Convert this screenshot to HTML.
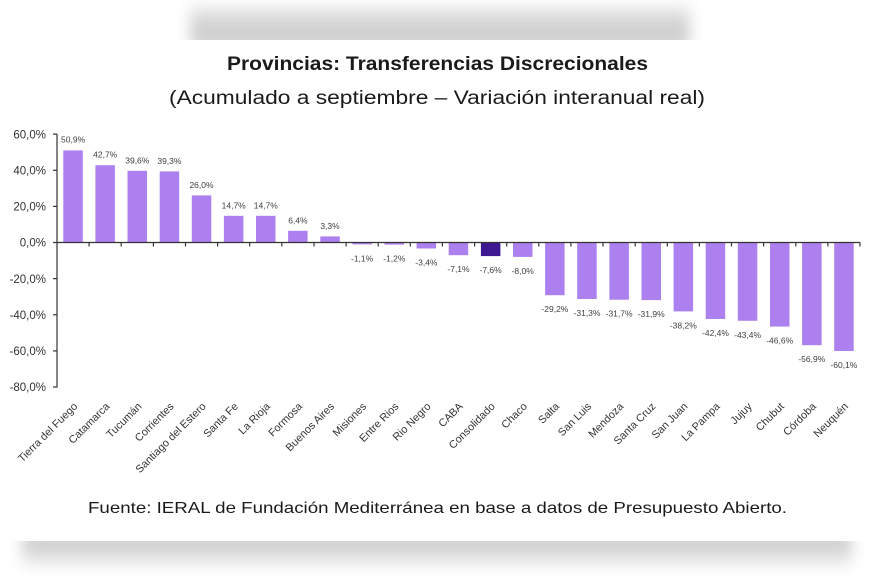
<!DOCTYPE html>
<html>
<head>
<meta charset="utf-8">
<style>
  html,body{margin:0;padding:0;background:#fff;}
  body{width:870px;height:580px;overflow:hidden;position:relative;font-family:"Liberation Sans",sans-serif;}
  .clipTop{position:absolute;left:0;top:0;width:870px;height:40px;overflow:hidden;}
  .bandTop{position:absolute;left:190px;top:6px;width:500px;height:40px;
    background:linear-gradient(to bottom,#ececec 0%,#d6d6d6 40%,#c9c9c9 100%);filter:blur(7px);}
  .clipBot{position:absolute;left:0;top:541px;width:870px;height:39px;overflow:hidden;}
  .bandBot{position:absolute;left:22px;top:-8px;width:830px;height:38px;
    background:linear-gradient(to bottom,#c8c8c8 0%,#d4d4d4 40%,#efefef 80%,#fff 100%);filter:blur(7px);}
  svg{position:absolute;left:0;top:0;}
</style>
</head>
<body>
<div class="clipTop"><div class="bandTop"></div></div>
<div class="clipBot"><div class="bandBot"></div></div>
<svg width="870" height="580" viewBox="0 0 870 580" xmlns="http://www.w3.org/2000/svg">
  <text x="437.5" y="70" text-anchor="middle" font-family="Liberation Sans, sans-serif" font-weight="bold" font-size="19" fill="#1a1a1a" textLength="421" lengthAdjust="spacingAndGlyphs">Provincias: Transferencias Discrecionales</text>
  <text x="437" y="104" text-anchor="middle" font-family="Liberation Sans, sans-serif" font-size="19" fill="#1a1a1a" textLength="536" lengthAdjust="spacingAndGlyphs">(Acumulado a septiembre – Variación interanual real)</text>

  <!-- y axis labels -->
  <g font-family="Liberation Sans, sans-serif" font-size="11.5" fill="#333" text-anchor="end">
    <text x="46" y="138.3">60,0%</text>
    <text x="46" y="174.5">40,0%</text>
    <text x="46" y="210.6">20,0%</text>
    <text x="46" y="246.7">0,0%</text>
    <text x="46" y="282.8">-20,0%</text>
    <text x="46" y="319">-40,0%</text>
    <text x="46" y="355.1">-60,0%</text>
    <text x="46" y="391.2">-80,0%</text>
  </g>
  <!-- y axis -->
  <g stroke="#333" stroke-width="1.2">
    <line x1="57" y1="134" x2="57" y2="387.5"/>
    <line x1="53" y1="134.1" x2="57" y2="134.1"/>
    <line x1="53" y1="170.3" x2="57" y2="170.3"/>
    <line x1="53" y1="206.4" x2="57" y2="206.4"/>
    <line x1="53" y1="242.5" x2="57" y2="242.5"/>
    <line x1="53" y1="278.6" x2="57" y2="278.6"/>
    <line x1="53" y1="314.8" x2="57" y2="314.8"/>
    <line x1="53" y1="350.9" x2="57" y2="350.9"/>
    <line x1="53" y1="387" x2="57" y2="387"/>
  </g>

  <!-- bars -->
  <g fill="#ad80ef">
    <rect x="63.3" y="150.4" width="19.5" height="92"/>
    <rect x="95.4" y="165.2" width="19.5" height="77.2"/>
    <rect x="127.5" y="170.8" width="19.5" height="71.6"/>
    <rect x="159.7" y="171.4" width="19.5" height="71"/>
    <rect x="191.8" y="195.4" width="19.5" height="47"/>
    <rect x="223.9" y="215.8" width="19.5" height="26.6"/>
    <rect x="256" y="215.8" width="19.5" height="26.6"/>
    <rect x="288.1" y="230.8" width="19.5" height="11.6"/>
    <rect x="320.3" y="236.4" width="19.5" height="6"/>
    <rect x="352.4" y="242.4" width="19.5" height="2"/>
    <rect x="384.5" y="242.4" width="19.5" height="2.2"/>
    <rect x="416.6" y="242.4" width="19.5" height="6.1"/>
    <rect x="448.7" y="242.4" width="19.5" height="12.8"/>
    <rect x="513" y="242.4" width="19.5" height="14.5"/>
    <rect x="545.1" y="242.4" width="19.5" height="52.8"/>
    <rect x="577.2" y="242.4" width="19.5" height="56.6"/>
    <rect x="609.4" y="242.4" width="19.5" height="57.3"/>
    <rect x="641.5" y="242.4" width="19.5" height="57.7"/>
    <rect x="673.6" y="242.4" width="19.5" height="69"/>
    <rect x="705.7" y="242.4" width="19.5" height="76.6"/>
    <rect x="737.8" y="242.4" width="19.5" height="78.4"/>
    <rect x="770" y="242.4" width="19.5" height="84.2"/>
    <rect x="802.1" y="242.4" width="19.5" height="102.8"/>
    <rect x="834.2" y="242.4" width="19.5" height="108.6"/>
  </g>
  <rect x="480.9" y="242.4" width="19.5" height="13.7" fill="#3d1890"/>

  <!-- x axis -->
  <g stroke="#333" stroke-width="1.2">
    <line x1="57" y1="242.5" x2="860" y2="242.5"/>
    <line x1="89.1" y1="242.5" x2="89.1" y2="246.5"/>
    <line x1="121.2" y1="242.5" x2="121.2" y2="246.5"/>
    <line x1="153.4" y1="242.5" x2="153.4" y2="246.5"/>
    <line x1="185.5" y1="242.5" x2="185.5" y2="246.5"/>
    <line x1="217.6" y1="242.5" x2="217.6" y2="246.5"/>
    <line x1="249.7" y1="242.5" x2="249.7" y2="246.5"/>
    <line x1="281.8" y1="242.5" x2="281.8" y2="246.5"/>
    <line x1="314" y1="242.5" x2="314" y2="246.5"/>
    <line x1="346.1" y1="242.5" x2="346.1" y2="246.5"/>
    <line x1="378.2" y1="242.5" x2="378.2" y2="246.5"/>
    <line x1="410.3" y1="242.5" x2="410.3" y2="246.5"/>
    <line x1="442.4" y1="242.5" x2="442.4" y2="246.5"/>
    <line x1="474.6" y1="242.5" x2="474.6" y2="246.5"/>
    <line x1="506.7" y1="242.5" x2="506.7" y2="246.5"/>
    <line x1="538.8" y1="242.5" x2="538.8" y2="246.5"/>
    <line x1="570.9" y1="242.5" x2="570.9" y2="246.5"/>
    <line x1="603" y1="242.5" x2="603" y2="246.5"/>
    <line x1="635.2" y1="242.5" x2="635.2" y2="246.5"/>
    <line x1="667.3" y1="242.5" x2="667.3" y2="246.5"/>
    <line x1="699.4" y1="242.5" x2="699.4" y2="246.5"/>
    <line x1="731.5" y1="242.5" x2="731.5" y2="246.5"/>
    <line x1="763.6" y1="242.5" x2="763.6" y2="246.5"/>
    <line x1="795.8" y1="242.5" x2="795.8" y2="246.5"/>
    <line x1="827.9" y1="242.5" x2="827.9" y2="246.5"/>
    <line x1="860" y1="242.5" x2="860" y2="246.5"/>
  </g>

  <!-- data labels -->
  <g font-family="Liberation Sans, sans-serif" font-size="8.5" fill="#404040" text-anchor="middle">
    <text x="73.1" y="142.4">50,9%</text>
    <text x="105.2" y="157.7">42,7%</text>
    <text x="137.3" y="163.3">39,6%</text>
    <text x="169.4" y="163.9">39,3%</text>
    <text x="201.5" y="187.9">26,0%</text>
    <text x="233.7" y="208.3">14,7%</text>
    <text x="265.8" y="208.3">14,7%</text>
    <text x="297.9" y="223.3">6,4%</text>
    <text x="330" y="228.9">3,3%</text>
    <text x="362.1" y="261.4">-1,1%</text>
    <text x="394.3" y="261.6">-1,2%</text>
    <text x="426.4" y="265.5">-3,4%</text>
    <text x="458.5" y="272.2">-7,1%</text>
    <text x="490.6" y="273.1">-7,6%</text>
    <text x="522.7" y="273.9">-8,0%</text>
    <text x="554.9" y="312.2">-29,2%</text>
    <text x="587" y="316">-31,3%</text>
    <text x="619.1" y="316.7">-31,7%</text>
    <text x="651.2" y="317">-31,9%</text>
    <text x="683.3" y="328.4">-38,2%</text>
    <text x="715.5" y="336">-42,4%</text>
    <text x="747.6" y="337.8">-43,4%</text>
    <text x="779.7" y="343.6">-46,6%</text>
    <text x="811.8" y="362.2">-56,9%</text>
    <text x="843.9" y="368">-60,1%</text>
  </g>

  <!-- category labels -->
  <g font-family="Liberation Sans, sans-serif" font-size="10.8" fill="#333" text-anchor="end">
    <text transform="translate(78.1,407) rotate(-45)">Tierra del Fuego</text>
    <text transform="translate(110.2,407) rotate(-45)">Catamarca</text>
    <text transform="translate(142.3,407) rotate(-45)">Tucumán</text>
    <text transform="translate(174.4,407) rotate(-45)">Corrientes</text>
    <text transform="translate(206.5,407) rotate(-45)">Santiago del Estero</text>
    <text transform="translate(238.7,407) rotate(-45)">Santa Fe</text>
    <text transform="translate(270.8,407) rotate(-45)">La Rioja</text>
    <text transform="translate(302.9,407) rotate(-45)">Formosa</text>
    <text transform="translate(335,407) rotate(-45)">Buenos Aires</text>
    <text transform="translate(367.1,407) rotate(-45)">Misiones</text>
    <text transform="translate(399.3,407) rotate(-45)">Entre Rios</text>
    <text transform="translate(431.4,407) rotate(-45)">Rio Negro</text>
    <text transform="translate(463.5,407) rotate(-45)">CABA</text>
    <text transform="translate(495.6,407) rotate(-45)">Consolidado</text>
    <text transform="translate(527.7,407) rotate(-45)">Chaco</text>
    <text transform="translate(559.9,407) rotate(-45)">Salta</text>
    <text transform="translate(592,407) rotate(-45)">San Luis</text>
    <text transform="translate(624.1,407) rotate(-45)">Mendoza</text>
    <text transform="translate(656.2,407) rotate(-45)">Santa Cruz</text>
    <text transform="translate(688.3,407) rotate(-45)">San Juan</text>
    <text transform="translate(720.5,407) rotate(-45)">La Pampa</text>
    <text transform="translate(752.6,407) rotate(-45)">Jujuy</text>
    <text transform="translate(784.7,407) rotate(-45)">Chubut</text>
    <text transform="translate(816.8,407) rotate(-45)">Córdoba</text>
    <text transform="translate(848.9,407) rotate(-45)">Neuquén</text>
  </g>

  <text x="437.5" y="513" text-anchor="middle" font-family="Liberation Sans, sans-serif" font-size="16" fill="#1a1a1a" textLength="699" lengthAdjust="spacingAndGlyphs">Fuente: IERAL de Fundación Mediterránea en base a datos de Presupuesto Abierto.</text>
</svg>
</body>
</html>
